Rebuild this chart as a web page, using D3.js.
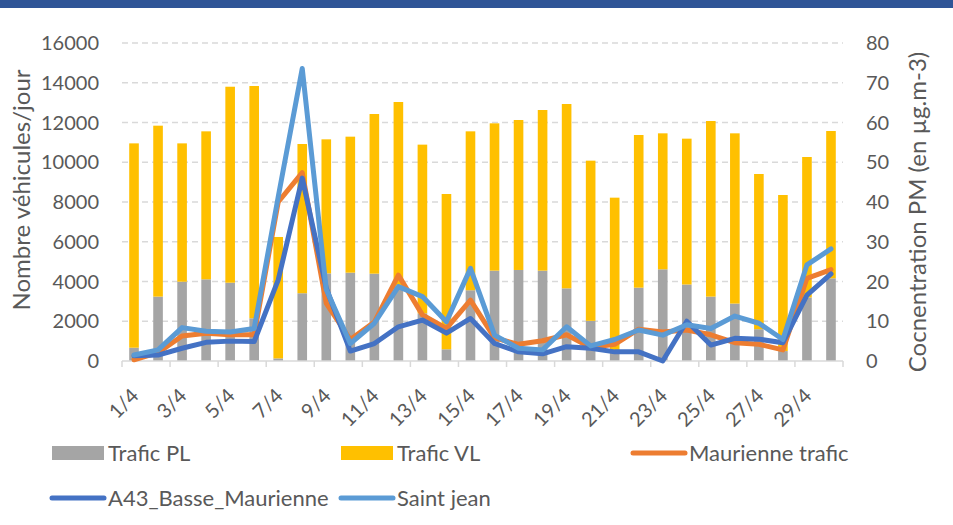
<!DOCTYPE html>
<html><head><meta charset="utf-8">
<script src="https://cdn.jsdelivr.net/npm/d3@7"></script>
<style>body{margin:0;background:#fff}svg{display:block}text{font-family:Lato,"Open Sans",sans-serif;fill:#595959}</style>
</head><body><svg id="c" width="953" height="525"></svg>
<script>
const days = d3.range(1,31).map(d => d + "/4");
const tickLabels = days.filter((d,i) => i % 2 === 0);
const traficPL = [670,3240,3990,4110,3940,2150,130,3410,4410,4445,4395,3800,2400,590,3560,4546,4580,4546,3656,2020,500,3690,4613,3850,3240,2890,1600,500,3200,4160];
const traficTotal = [10950,11840,10950,11555,13800,13836,6240,10918,11153,11287,12427,13031,10886,8403,11555,11958,12126,12629,12931,10080,8218,11371,11455,11187,12075,11455,9409,8352,10264,11572];
const traficVL = traficTotal.map((t,i) => t - traficPL[i]);
const maurienne = [0.3,2.1,6.3,7.0,6.6,6.6,40,47.4,14.5,5.4,9.8,21.6,11.6,8.2,15.3,5.8,4.2,5.1,6.6,3.4,4.2,8.0,7.3,7.8,6.6,4.6,4.2,2.8,20.8,23.0];
const a43 = [1.3,1.5,3.2,4.7,5.0,4.9,20.4,46,18.3,2.5,4.4,8.6,10.3,7.0,10.7,4.4,2.3,1.8,3.6,3.2,2.3,2.3,0,10,4.0,5.7,5.5,4.6,16.6,21.9];
const saintJean = [1.5,2.8,8.4,7.5,7.3,8.2,41.3,73.6,18.0,4.4,9.5,18.7,16.2,9.9,23.3,6.5,3.2,2.8,8.6,3.8,5.4,7.8,6.5,9.1,8.2,11.3,9.5,5.4,24.2,28.2];
const leftTicks = [0,2000,4000,6000,8000,10000,12000,14000,16000];
const rightTicks = [0,10,20,30,40,50,60,70,80];

const svg = d3.select("#c");
const m = {l:122, r:843, t:43, b:361};
svg.append("rect").attr("x",0).attr("y",0).attr("width",953).attr("height",8).attr("fill","#2F5597");

const x = d3.scaleBand().domain(days).range([m.l, m.r]).paddingInner(0.6).paddingOuter(0.3);
const xc = d => x(d) + x.bandwidth()/2;
const yL = d3.scaleLinear().domain([0,16000]).range([m.b, m.t]);
const yR = d3.scaleLinear().domain([0,80]).range([m.b, m.t]);

// gridlines
svg.append("g").selectAll("line").data(leftTicks.slice(1)).join("line")
  .attr("x1", m.l).attr("x2", m.r).attr("y1", d=>yL(d)).attr("y2", d=>yL(d))
  .attr("stroke","#d9d9d9").attr("stroke-width",1.5).attr("stroke-dasharray","6,4");

// bars
const bars = svg.append("g");
bars.selectAll(".pl").data(days).join("rect").attr("class","pl")
  .attr("x", d=>x(d)).attr("width", x.bandwidth())
  .attr("y", (d,i)=>yL(traficPL[i])).attr("height", (d,i)=>yL(0)-yL(traficPL[i]))
  .attr("fill","#A5A5A5");
bars.selectAll(".vl").data(days).join("rect").attr("class","vl")
  .attr("x", d=>x(d)).attr("width", x.bandwidth())
  .attr("y", (d,i)=>yL(traficPL[i]+traficVL[i])).attr("height", (d,i)=>yL(traficPL[i])-yL(traficPL[i]+traficVL[i]))
  .attr("fill","#FFC000");

// x axis
const xa = svg.append("g").attr("transform",`translate(0,${m.b})`);
xa.append("line").attr("x1",m.l).attr("x2",m.r).attr("stroke","#d9d9d9").attr("stroke-width",1.5);
const step = x.step();
xa.selectAll(".tk").data(d3.range(0,31,2)).join("line").attr("class","tk")
  .attr("x1", i=>m.l + i*step).attr("x2", i=>m.l + i*step).attr("y1",0).attr("y2",6)
  .attr("stroke","#d9d9d9").attr("stroke-width",1.5);
xa.selectAll("text").data(tickLabels).join("text")
  .attr("transform", d=>`translate(${xc(d)+1},${31}) rotate(-45)`)
  .attr("text-anchor","end").attr("dy","0.35em").attr("font-size",20).text(d=>d);

// left axis
svg.append("g").selectAll("text").data(leftTicks).join("text")
  .attr("x", 99).attr("y", d=>yL(d)).attr("dy","0.35em").attr("text-anchor","end").attr("font-size",20).text(d=>d);
svg.append("text").attr("transform",`translate(30,${190}) rotate(-90)`)
  .attr("text-anchor","middle").attr("font-size",24).text("Nombre véhicules/jour");

// right axis
svg.append("g").selectAll("text").data(rightTicks).join("text")
  .attr("x", 866).attr("y", d=>yR(d)).attr("dy","0.35em").attr("text-anchor","start").attr("font-size",20).text(d=>d);
svg.append("text").attr("transform",`translate(926,${212}) rotate(-90)`)
  .attr("text-anchor","middle").attr("font-size",24).text("Cocnentration PM (en µg.m-3)");

// lines
const series = [
  {name:"Maurienne trafic", vals:maurienne, color:"#ED7D31"},
  {name:"A43_Basse_Maurienne", vals:a43, color:"#4472C4"},
  {name:"Saint jean", vals:saintJean, color:"#5B9BD5"}
];
series.forEach(s=>{
  const line = d3.line().x((v,i)=>xc(days[i])).y(v=>yR(v));
  svg.append("path").attr("d", line(s.vals)).attr("fill","none").attr("stroke",s.color)
    .attr("stroke-width",5).attr("stroke-linejoin","round").attr("stroke-linecap","round");
});

// legend
const lg = svg.append("g");
const items = [
  {label:"Trafic PL", color:"#A5A5A5", type:"rect", x:52, y:453},
  {label:"Trafic VL", color:"#FFC000", type:"rect", x:341, y:453},
  {label:"Maurienne trafic", color:"#ED7D31", type:"line", x:633, y:453},
  {label:"A43_Basse_Maurienne", color:"#4472C4", type:"line", x:52, y:498},
  {label:"Saint jean", color:"#5B9BD5", type:"line", x:341, y:498}
];
items.forEach(it=>{
  if(it.type==="rect") lg.append("rect").attr("x",it.x).attr("y",it.y-7).attr("width",52).attr("height",14).attr("fill",it.color);
  else lg.append("line").attr("x1",it.x).attr("x2",it.x+52).attr("y1",it.y).attr("y2",it.y).attr("stroke",it.color).attr("stroke-width",5).attr("stroke-linecap","round");
  lg.append("text").attr("x",it.x+56).attr("y",it.y).attr("dy","0.35em").attr("font-size",22).text(it.label);
});
</script></body></html>
